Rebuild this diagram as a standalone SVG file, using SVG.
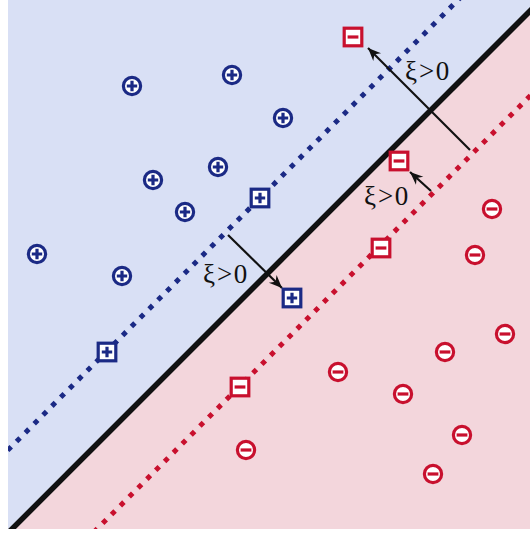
<svg xmlns="http://www.w3.org/2000/svg" xmlns:xlink="http://www.w3.org/1999/xlink" width="530" height="535" viewBox="0 0 530 535">
<style>
.nv{stroke:#1b2a85;}
.rd{stroke:#c8102e;}
.sym{fill:#ffffff;stroke-width:3.2;}
.bar{stroke-width:3.2;fill:none;}
.lbl{font-family:"Liberation Serif","DejaVu Serif",serif;font-size:27px;fill:#111;}
.arr{stroke:#111;stroke-width:2.2;fill:none;}
</style>
<defs>
<clipPath id="panel"><rect x="8" y="0" width="522" height="529"/></clipPath>
<g id="pc"><circle cx="0" cy="0" r="8.6" class="sym nv"/><path d="M-5.2,0H5.2M0,-5.2V5.2" class="bar nv"/></g>
<g id="ps"><rect x="-8.8" y="-8.8" width="17.6" height="17.6" class="sym nv"/><path d="M-5.2,0H5.2M0,-5.2V5.2" class="bar nv"/></g>
<g id="mc"><circle cx="0" cy="0" r="8.6" class="sym rd"/><path d="M-5.4,0H5.4" class="bar rd"/></g>
<g id="ms"><rect x="-8.8" y="-8.8" width="17.6" height="17.6" class="sym rd"/><path d="M-5.4,0H5.4" class="bar rd"/></g>
<marker id="ah" markerUnits="userSpaceOnUse" markerWidth="16" markerHeight="12" viewBox="-14 -6 16 12" refX="0" refY="0" orient="auto">
<path d="M0,0 L-13,-5.5 L-9,0 L-13,5.5 Z" fill="#111"/>
</marker>
</defs>
<g id="background" clip-path="url(#panel)">
<polygon points="8,0 530,0 530,11 8,533" fill="#d9e0f5"/>
<polygon points="530,11 530,529 8,529 8,533" fill="#f3d6dc"/>
<line x1="-10" y1="468" x2="468" y2="-10" stroke="#1b2a85" stroke-width="5" stroke-dasharray="5 7.5"/>
<line x1="85" y1="541" x2="541" y2="85" stroke="#c8102e" stroke-width="5" stroke-dasharray="5 7.5"/>
<line x1="0" y1="541" x2="541" y2="0" stroke="#111" stroke-width="5.5"/>
</g>
<g id="connectors">
<line x1="470" y1="150" x2="368" y2="48" class="arr" marker-end="url(#ah)"/>
<line x1="431" y1="191" x2="410" y2="172" class="arr" marker-end="url(#ah)"/>
<line x1="228" y1="235" x2="282" y2="288" class="arr" marker-end="url(#ah)"/>
</g>
<g id="labels">
<text class="lbl" x="405" y="80">ξ<tspan dx="2">&gt;</tspan><tspan dx="1.5">0</tspan></text>
<text class="lbl" x="364" y="205">ξ<tspan dx="2">&gt;</tspan><tspan dx="1.5">0</tspan></text>
<text class="lbl" x="203" y="283">ξ<tspan dx="2">&gt;</tspan><tspan dx="1.5">0</tspan></text>
</g>
<g id="p1"><use xlink:href="#pc" x="132" y="86"/></g>
<g id="p2"><use xlink:href="#pc" x="232" y="75"/></g>
<g id="p3"><use xlink:href="#pc" x="283" y="118"/></g>
<g id="p4"><use xlink:href="#pc" x="153" y="180"/></g>
<g id="p5"><use xlink:href="#pc" x="218" y="167"/></g>
<g id="p6"><use xlink:href="#pc" x="185" y="212"/></g>
<g id="p7"><use xlink:href="#pc" x="37" y="254"/></g>
<g id="p8"><use xlink:href="#pc" x="122" y="276"/></g>
<g id="ps1"><use xlink:href="#ps" x="260" y="198"/></g>
<g id="ps2"><use xlink:href="#ps" x="292" y="298"/></g>
<g id="ps3"><use xlink:href="#ps" x="107" y="352"/></g>
<g id="ms1"><use xlink:href="#ms" x="353" y="37"/></g>
<g id="ms2"><use xlink:href="#ms" x="399" y="161"/></g>
<g id="ms3"><use xlink:href="#ms" x="381" y="248"/></g>
<g id="ms4"><use xlink:href="#ms" x="240" y="387"/></g>
<g id="m1"><use xlink:href="#mc" x="492" y="209"/></g>
<g id="m2"><use xlink:href="#mc" x="475" y="255"/></g>
<g id="m3"><use xlink:href="#mc" x="505" y="334"/></g>
<g id="m4"><use xlink:href="#mc" x="445" y="352"/></g>
<g id="m5"><use xlink:href="#mc" x="338" y="372"/></g>
<g id="m6"><use xlink:href="#mc" x="403" y="394"/></g>
<g id="m7"><use xlink:href="#mc" x="462" y="435"/></g>
<g id="m8"><use xlink:href="#mc" x="433" y="474"/></g>
<g id="m9"><use xlink:href="#mc" x="246" y="450"/></g>
</svg>
